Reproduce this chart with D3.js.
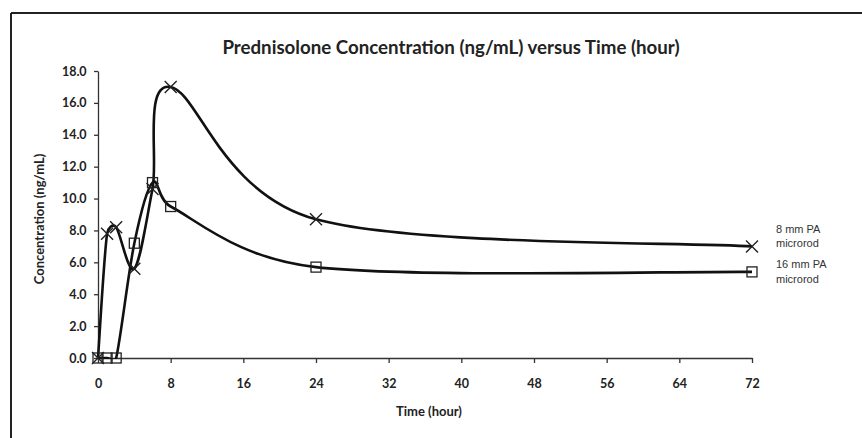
<!DOCTYPE html>
<html><head><meta charset="utf-8">
<script src="https://cdn.jsdelivr.net/npm/d3@7"></script>
<style>body{margin:0;background:#fff}svg{display:block}</style>
</head><body>
<svg id="c" width="862" height="438"></svg>
<script>
const times8 = [0, 1, 2, 4, 6, 8, 24, 72];
const conc8 = [0, 7.8, 8.2, 5.6, 10.6, 17.0, 8.7, 7.0];
const times16 = [0, 1, 2, 4, 6, 8, 24, 72];
const conc16 = [0, 0, 0, 7.2, 11.0, 9.5, 5.7, 5.4];
const xTicks = [0, 8, 16, 24, 32, 40, 48, 56, 64, 72];
const yTicks = [0, 2, 4, 6, 8, 10, 12, 14, 16, 18];
const seriesNames = [["8 mm PA", "microrod"], ["16 mm PA", "microrod"]];
const title = "Prednisolone Concentration (ng/mL) versus Time (hour)";
const xTitle = "Time (hour)";
const yTitle = "Concentration (ng/mL)";

const svg = d3.select("#c");
const font = "Lato,'Open Sans',sans-serif";
const x = d3.scaleLinear().domain([0, 72]).range([98, 752]);
const y = d3.scaleLinear().domain([0, 18]).range([358, 71]);

// frame
svg.append("line").attr("x1", 11).attr("x2", 862).attr("y1", 13).attr("y2", 13).attr("stroke", "#222").attr("stroke-width", 2);
svg.append("line").attr("x1", 11).attr("x2", 11).attr("y1", 13).attr("y2", 438).attr("stroke", "#222").attr("stroke-width", 2);

svg.append("text").attr("x", 451).attr("y", 54).attr("text-anchor", "middle")
  .attr("font-family", font).attr("font-weight", "bold").attr("font-size", 18.7).attr("fill", "#222").text(title);

const xAxis = svg.append("g").attr("transform", "translate(0,358)")
  .call(d3.axisBottom(x).tickValues(xTicks).tickSize(5).tickSizeOuter(0).tickFormat(d3.format("d")));
const yAxis = svg.append("g").attr("transform", "translate(98,0)")
  .call(d3.axisLeft(y).tickValues(yTicks).tickSize(4).tickSizeOuter(0).tickFormat(d3.format(".1f")));
[xAxis, yAxis].forEach(a => {
  a.select(".domain").attr("stroke", "#333").attr("stroke-width", 1.3);
  a.selectAll(".tick line").attr("stroke", "#333").attr("stroke-width", 1.3);
  a.selectAll("text").attr("font-family", font).attr("font-weight", "bold").attr("font-size", 12.5).attr("fill", "#222");
});
xAxis.selectAll("text").attr("dy", "1.75em");
yAxis.selectAll("text").attr("dx", "-0.35em");

svg.append("text").attr("x", 429).attr("y", 416).attr("text-anchor", "middle")
  .attr("font-family", font).attr("font-weight", "bold").attr("font-size", 13).attr("fill", "#222").text(xTitle);
svg.append("text").attr("transform", "translate(44,219) rotate(-90)").attr("text-anchor", "middle")
  .attr("font-family", font).attr("font-weight", "bold").attr("font-size", 13).attr("fill", "#222").text(yTitle);

// Excel-like smoothed line: Catmull-Rom Bezier arms, clamped to half the segment length
function smoothPath(data) {
  const p = data.map(d => [x(d[0]), y(d[1])]);
  const n = p.length;
  const path = d3.path();
  path.moveTo(p[0][0], p[0][1]);
  for (let i = 0; i < n - 1; i++) {
    const p0 = p[Math.max(i - 1, 0)], p1 = p[i], p2 = p[i + 1], p3 = p[Math.min(i + 2, n - 1)];
    const seg = Math.hypot(p2[0] - p1[0], p2[1] - p1[1]);
    let a = [(p2[0] - p0[0]) / 6, (p2[1] - p0[1]) / 6];
    let b = [(p3[0] - p1[0]) / 6, (p3[1] - p1[1]) / 6];
    const la = Math.hypot(a[0], a[1]), lb = Math.hypot(b[0], b[1]);
    const lim = seg * 0.5;
    if (la > lim) a = a.map(v => v * lim / la);
    if (lb > lim) b = b.map(v => v * lim / lb);
    path.bezierCurveTo(p1[0] + a[0], p1[1] + a[1], p2[0] - b[0], p2[1] - b[1], p2[0], p2[1]);
  }
  return path.toString();
}
const d8 = times8.map((t, i) => [t, conc8[i]]);
const d16 = times16.map((t, i) => [t, conc16[i]]);

svg.append("clipPath").attr("id", "clip").append("rect").attr("x", 90).attr("y", 60).attr("width", 680).attr("height", 299);
const lines = svg.append("g").attr("clip-path", "url(#clip)");
lines.append("path").attr("d", smoothPath(d16)).attr("fill", "none").attr("stroke", "#111").attr("stroke-width", 2.6);
lines.append("path").attr("d", smoothPath(d8)).attr("fill", "none").attr("stroke", "#111").attr("stroke-width", 2.6);

// markers
svg.append("g").selectAll("rect").data(d16).join("rect")
  .attr("x", d => x(d[0]) - 5).attr("y", d => y(d[1]) - 5).attr("width", 10).attr("height", 10)
  .attr("fill", "none").attr("stroke", "#222").attr("stroke-width", 1.3);
svg.append("g").selectAll("path").data(d8).join("path")
  .attr("d", d => { const cx = x(d[0]), cy = y(d[1]), s = 6; return `M${cx-s},${cy-s}L${cx+s},${cy+s}M${cx-s},${cy+s}L${cx+s},${cy-s}`; })
  .attr("stroke", "#222").attr("stroke-width", 1.4).attr("fill", "none");

// legend labels
const legY = [[233, 247], [268, 283]];
seriesNames.forEach((lines, i) => {
  lines.forEach((s, j) => {
    svg.append("text").attr("x", 776).attr("y", legY[i][j])
      .attr("font-family", "'Liberation Sans',Arial,sans-serif").attr("font-size", 11).attr("fill", "#333").text(s);
  });
});
</script>
</body></html>
